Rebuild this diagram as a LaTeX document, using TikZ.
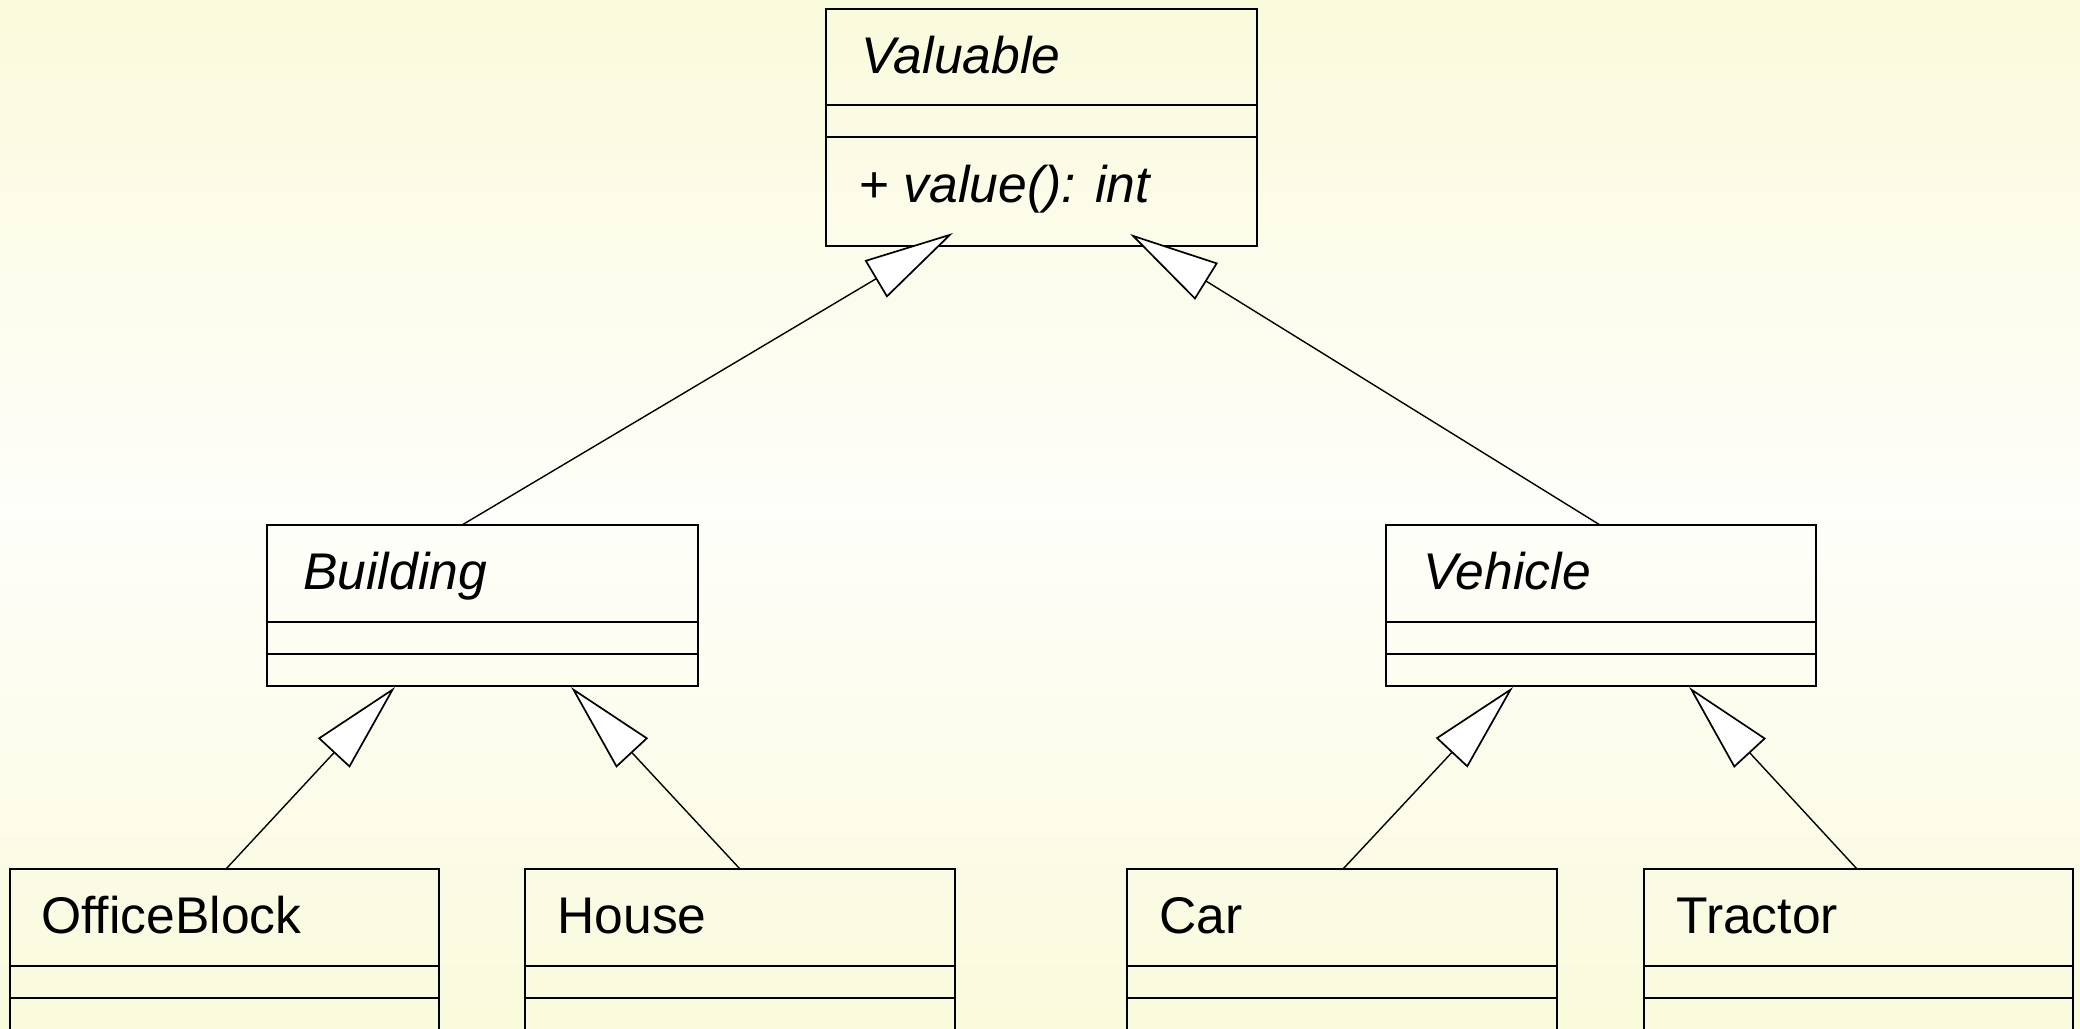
\documentclass[tikz,border=0pt]{standalone}
\usepackage{fontspec}
\setmainfont{Liberation Sans}
\usetikzlibrary{arrows.meta,fit}
\definecolor{bgY}{RGB}{250,250,220}
\definecolor{bgW}{RGB}{254,254,250}
\tikzset{
  clsbox/.style={draw=black, line width=0.85pt, inner sep=0pt, fill=none},
  clsline/.style={draw=black, line width=0.85pt},
  clstext/.style={inner sep=0pt, anchor=base west, font=\fontsize{25.8pt}{30pt}\selectfont},
  gen/.style={draw=black, line width=0.7pt,
    -{Triangle[length=45pt, width=21.5pt, fill=white, line width=0.85pt]}}
}
\newcommand\umlclass[9]{%
  \node[clsbox, fit={(#2,#3) (#4,#5)}] (#1) {};
  \draw[clsline] (#2,#6) -- (#4,#6);
  \draw[clsline] (#2,#7) -- (#4,#7);
  \node[clstext] (#1-t) at ({#2+#8},{#3+64}) {#9};
}
\begin{document}
\begin{tikzpicture}[x=0.5pt,y=-0.5pt]
\useasboundingbox (0,0) rectangle (2080,1028);
\clip (0,0) rectangle (2080,1028);
\shade[top color=bgY, bottom color=bgY, middle color=bgW] (0,0) rectangle (2080,1028);

\umlclass{valuable}{826}{9}{1257}{246}{105}{137}{35}{\itshape Valuable}
\node[clstext] (valuable-m) at (859,202) {+ \itshape value(): int};

\umlclass{building}{267}{525}{698}{686}{622}{654}{36}{\itshape Building}
\umlclass{vehicle}{1386}{525}{1816}{686}{622}{654}{37}{\itshape Vehicle}

\umlclass{officeblock}{10}{869}{439}{1034}{966}{998}{31}{OfficeBlock}
\umlclass{house}{525}{869}{955}{1034}{966}{998}{32}{House}
\umlclass{car}{1127}{869}{1557}{1034}{966}{998}{32}{Car}
\umlclass{tractor}{1644}{869}{2073}{1034}{966}{998}{32}{Tractor}

% connector end points
\coordinate (valL) at (953,233);
\coordinate (valR) at (1130,234);
\coordinate (bldL) at (395,687);
\coordinate (bldR) at (571,687);
\coordinate (vehL) at (1513,687);
\coordinate (vehR) at (1689,687);
\coordinate (bldTop) at (462,525);
\coordinate (vehTop) at (1600,525);
\coordinate (offTop) at (226,869);
\coordinate (houTop) at (740,869);
\coordinate (carTop) at (1343,869);
\coordinate (traTop) at (1857,869);

\draw[gen] (bldTop) -- (valL);
\draw[gen] (vehTop) -- (valR);
\draw[gen] (offTop) -- (bldL);
\draw[gen] (houTop) -- (bldR);
\draw[gen] (carTop) -- (vehL);
\draw[gen] (traTop) -- (vehR);
\end{tikzpicture}
\end{document}
